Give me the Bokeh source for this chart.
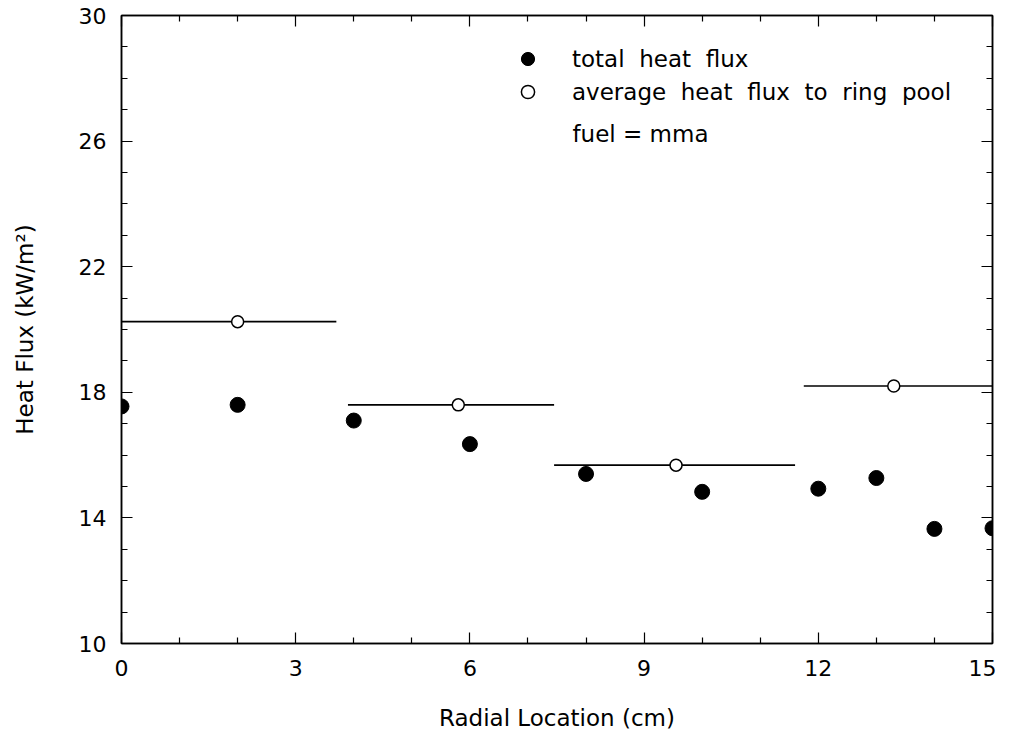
from bokeh.plotting import figure
from bokeh.models import Range1d, LinearAxis, Legend, LegendItem, Label, FixedTicker
from bokeh.embed import file_html
from bokeh.resources import INLINE

# ---- data ----
total_x = [0, 2, 4, 6, 8, 10, 12, 13, 14, 15]
total_y = [17.55, 17.6, 17.1, 16.35, 15.4, 14.83, 14.93, 15.27, 13.65, 13.67]
avg_x = [2.0, 5.8, 9.55, 13.3]
avg_y = [20.25, 17.6, 15.68, 18.2]
ring_start = [0.0, 3.9, 7.45, 11.75]
ring_end = [3.7, 7.45, 11.6, 15.0]
x_ticks = [0, 3, 6, 9, 12, 15]
y_ticks = [10, 14, 18, 22, 26, 30]
x_minor = [v for v in range(0, 16) if v % 3]
y_minor = [v for v in range(10, 31) if (v - 10) % 4]

FONT = "DejaVu Sans"

p = figure(width=996, height=733, output_backend="svg", toolbar_location=None,
           x_range=Range1d(0, 15), y_range=Range1d(10, 30),
           min_border_left=121, min_border_right=4, min_border_top=15,
           min_border_bottom=85, x_axis_location=None, y_axis_location=None)
p.grid.visible = False
p.outline_line_color = "black"
p.outline_line_width = 1.5


def style(ax, ticks, minor, labels=True):
    ax.ticker = FixedTicker(ticks=ticks, minor_ticks=minor)
    ax.axis_line_color = "black"
    ax.axis_line_width = 1.5
    ax.major_tick_in = 11
    ax.major_tick_out = 0
    ax.minor_tick_in = 6
    ax.minor_tick_out = 0
    ax.major_tick_line_color = "black"
    ax.minor_tick_line_color = "black"
    ax.major_tick_line_width = 1.2
    ax.minor_tick_line_width = 1.2
    ax.major_label_text_font = FONT
    ax.major_label_text_font_size = "22px"
    ax.major_label_text_color = "black"
    ax.axis_label_text_font = FONT
    ax.axis_label_text_font_style = "normal"
    ax.axis_label_text_font_size = "23px"
    ax.axis_label_text_color = "black"
    if not labels:
        ax.major_label_text_font_size = "0px"
        ax.major_label_text_alpha = 0
        ax.major_label_standoff = 0


xb = LinearAxis(axis_label="Radial Location (cm)")
style(xb, x_ticks, x_minor)
xb.major_label_standoff = 16
xb.axis_label_standoff = 26
p.add_layout(xb, "below")

yl = LinearAxis(axis_label="Heat Flux (kW/m\u00b2)")
style(yl, y_ticks, y_minor)
yl.major_label_standoff = 15
yl.axis_label_standoff = 38
p.add_layout(yl, "left")

xt = LinearAxis()
style(xt, x_ticks, x_minor, labels=False)
p.add_layout(xt, "above")

yr = LinearAxis()
style(yr, y_ticks, y_minor, labels=False)
p.add_layout(yr, "right")

# ring-pool average lines
p.segment(x0=ring_start, y0=avg_y, x1=ring_end, y1=avg_y, line_color="black", line_width=1.6)

r_total = p.scatter(total_x, total_y, marker="circle", size=15, fill_color="black", line_color="black")
r_avg = p.scatter(avg_x, avg_y, marker="circle", size=12, fill_color="white", line_color="black", line_width=1.5)

legend = Legend(items=[LegendItem(label="total  heat  flux", renderers=[r_total]),
                       LegendItem(label="average  heat  flux  to  ring  pool", renderers=[r_avg])],
                location=(390, 535), orientation="vertical",
                label_text_font=FONT, label_text_font_size="23px", label_text_color="black",
                glyph_width=33, glyph_height=33, label_height=33, label_standoff=28,
                spacing=0, padding=0, margin=0,
                border_line_color=None, background_fill_alpha=0)
p.add_layout(legend)

p.add_layout(Label(x=451, y=510, x_units="screen", y_units="screen",
                   text="fuel  =  mma", text_font=FONT, text_font_size="23px",
                   text_color="black", text_baseline="middle"))

open("out.html", "w").write(file_html(p, INLINE))
